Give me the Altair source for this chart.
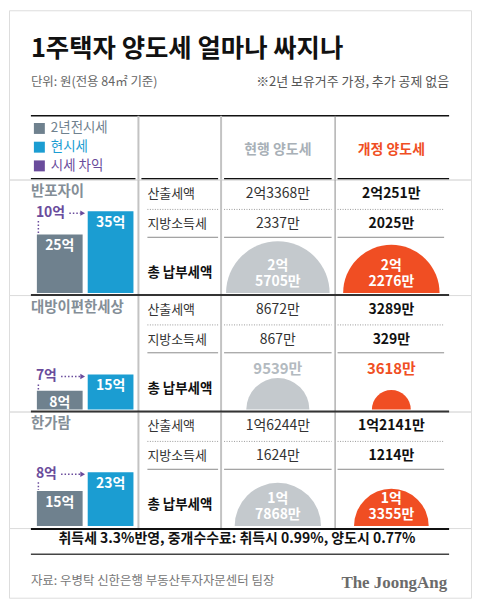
import math
import altair as alt
import pandas as pd

FONT = "Noto Sans CJK KR"

# ---------------- data ----------------
title = "1주택자 양도세 얼마나 싸지나"
subtitle = "단위: 원(전용 84㎡ 기준)"
note = "※2년 보유거주 가정, 추가 공제 없음"
legend_labels = ["2년전시세", "현시세", "시세 차익"]
columns = ["현행 양도세", "개정 양도세"]
row_labels = ["산출세액", "지방소득세", "총 납부세액"]
sections = ["반포자이", "대방이편한세상", "한가람"]
price_2y_ago = [25, 8, 15]      # 억
price_now = [35, 15, 23]        # 억
price_gain = [10, 7, 8]         # 억
calc_tax_current = ["2억3368만", "8672만", "1억6244만"]
local_tax_current = ["2337만", "867만", "1624만"]
calc_tax_revised = ["2억251만", "3289만", "1억2141만"]
local_tax_revised = ["2025만", "329만", "1214만"]
total_current = [25705, 9539, 17868]   # 만원
total_revised = [22276, 3618, 13355]   # 만원
footer_note = "취득세 3.3%반영, 중개수수료: 취득시 0.99%, 양도시 0.77%"
source = "자료: 우병탁 신한은행 부동산투자자문센터 팀장"
brand = "The JoongAng"

# ---------------- styles / layout ----------------
GRAY_BAR = "#6f818e"
CYAN = "#1b9dd2"
PURPLE = "#6a4c9c"
ORANGE = "#f04e23"
LIGHT = "#c4c9cd"
HEAD_GRAY = "#a8b0b7"
LABEL_GRAY = "#848e97"
W = 464
K = 2.35       # px per 억
R_MAX = 52     # px radius of the largest semicircle
ONE = pd.DataFrame({"k": [0]})


def hrule(x1, x2, y, color, width=1.0, dash=None):
    kw = dict(color=color, strokeWidth=width)
    if dash:
        kw["strokeDash"] = dash
    return alt.Chart(ONE).mark_rule(**kw).encode(
        x=alt.value(x1), x2=alt.value(x2), y=alt.value(y))


def vrule(x, y1, y2, color, width=1.0):
    return alt.Chart(ONE).mark_rule(color=color, strokeWidth=width).encode(
        x=alt.value(x), y=alt.value(y1), y2=alt.value(y2))


def label(text, x, y, size, color="#333", weight="normal", align="left", font=FONT):
    return alt.Chart(pd.DataFrame({"t": [text]})).mark_text(
        font=font, fontSize=size, fontWeight=weight, color=color,
        align=align, baseline="middle").encode(
        x=alt.value(x), y=alt.value(y), text="t:N")


def verticals(y1, y2):
    return [vrule(130, y1, y2, "#c3c3c3", 2),
            vrule(213, y1, y2, "#c3c3c3", 2),
            vrule(327.5, y1, y2, "#8a8a8a", 1)]


SEGS = [(139, 210), (216, 324), (330, 437)]

# ---------------- top block ----------------
TOP_H = 170
leg_df = pd.DataFrame({"item": legend_labels})
leg_y = alt.Scale(type="point", domain=legend_labels, range=[118.7, 156.3], padding=0)
leg_c = alt.Scale(domain=legend_labels, range=[GRAY_BAR, CYAN, PURPLE])
head_df = pd.DataFrame({"col": columns})
xp_top = alt.Scale(type="point", domain=columns, range=[270, 384], padding=0)

top_layers = [
    label(title, 22, 38.7, 25.5, "#111", "bold"),
    label(subtitle, 22, 72, 12.5, "#666"),
    label(note, 442, 72, 13, "#555", align="right"),
    hrule(22, 442, 106, "#111", 1.5),
    *verticals(106, TOP_H),
    alt.Chart(leg_df).mark_square(size=121, opacity=1).encode(
        x=alt.value(30.5),
        y=alt.Y("item:N", scale=leg_y, axis=None),
        color=alt.Color("item:N", scale=leg_c, legend=None)),
    alt.Chart(leg_df).mark_text(font=FONT, fontSize=13.5, align="left").encode(
        x=alt.value(42),
        y=alt.Y("item:N", scale=leg_y, axis=None),
        text="item:N",
        color=alt.Color("item:N", scale=leg_c, legend=None)),
    alt.Chart(head_df).mark_text(font=FONT, fontSize=14, fontWeight="bold").encode(
        x=alt.X("col:N", scale=xp_top, axis=None),
        y=alt.value(140),
        text="col:N",
        color=alt.Color("col:N", scale=alt.Scale(domain=columns, range=[HEAD_GRAY, ORANGE]),
                        legend=None)),
    hrule(22, 127, 169.2, "#111", 1.5),
    hrule(133, 210, 169.2, "#111", 1.5),
    hrule(216, 324, 169.2, "#111", 1.5),
    hrule(330, 442, 169.2, "#111", 1.5),
]
top = alt.layer(*top_layers).resolve_scale(color="independent").properties(width=W, height=TOP_H)


# ---------------- sections ----------------
def section(i, h, base, first=False):
    ys = alt.Scale(domain=[0, 40], range=[base, base - 40 * K])
    xb = alt.Scale(type="band", domain=legend_labels[:2], range=[28, 125],
                   paddingInner=0.1, paddingOuter=0)
    xp = alt.Scale(type="point", domain=columns, range=[270, 384], padding=0)
    rs = alt.Scale(type="sqrt", domain=[0, max(total_current)], range=[0, R_MAX])

    layers = [*verticals(0, h)]
    for a, b in SEGS:
        layers.append(hrule(a, b, 30, "#9a9a9a", 1, [1, 1.5]))
        layers.append(hrule(a, b, 58, "#8a8a8a", 1))

    layers += [
        label(sections[i], 22, 13, 14.5, LABEL_GRAY, "bold"),
        label(row_labels[0], 139, 15, 13, "#333"),
        label(row_labels[1], 139, 45, 13, "#333"),
        label(row_labels[2], 139, 94, 13.5, "#111", "bold"),
        label(calc_tax_current[i], 270, 15, 14, "#333", align="center"),
        label(local_tax_current[i], 270, 45, 14, "#333", align="center"),
        label(calc_tax_revised[i], 384, 15, 14, "#111", "bold", align="center"),
        label(local_tax_revised[i], 384, 45, 14, "#111", "bold", align="center"),
    ]

    # price bars
    bars_df = pd.DataFrame({
        "시점": legend_labels[:2],
        "억": [price_2y_ago[i], price_now[i]],
        "lbl": [f"{price_2y_ago[i]}억", f"{price_now[i]}억"],
    })
    layers.append(alt.Chart(bars_df).mark_bar().encode(
        x=alt.X("시점:N", scale=xb, axis=None),
        y=alt.Y("억:Q", scale=ys, axis=None),
        color=alt.Color("시점:N", scale=alt.Scale(domain=legend_labels[:2],
                                                 range=[GRAY_BAR, CYAN]), legend=None)))
    layers.append(alt.Chart(bars_df).mark_text(
        font=FONT, fontSize=14, fontWeight="bold", color="white", dy=12).encode(
        x=alt.X("시점:N", scale=xb, axis=None),
        y=alt.Y("억:Q", scale=ys, axis=None),
        text="lbl:N"))

    # gain annotation
    gdf = pd.DataFrame({"old": [price_2y_ago[i]], "new": [price_now[i]],
                        "gain": [f"{price_gain[i]}억"]})
    end = 27 + 8.3 * len(str(price_gain[i])) + 14 + 3
    layers += [
        alt.Chart(gdf).mark_text(font=FONT, fontSize=14, fontWeight="bold",
                                 color=PURPLE, align="left", dy=2).encode(
            x=alt.value(27), y=alt.Y("new:Q", scale=ys, axis=None), text="gain:N"),
        alt.Chart(gdf).mark_rule(color=PURPLE, strokeWidth=1.5, strokeDash=[1.5, 2],
                                 yOffset=2).encode(
            x=alt.value(end), x2=alt.value(72), y=alt.Y("new:Q", scale=ys, axis=None)),
        alt.Chart(gdf).mark_point(shape="triangle-right", filled=True, color=PURPLE,
                                  size=30, opacity=1, yOffset=2).encode(
            x=alt.value(74), y=alt.Y("new:Q", scale=ys, axis=None)),
        alt.Chart(gdf).mark_rule(color=PURPLE, strokeWidth=1.5, strokeDash=[1.5, 2],
                                 yOffset=10, y2Offset=-1).encode(
            x=alt.value(29.5), y=alt.Y("new:Q", scale=ys, axis=None), y2="old:Q"),
    ]

    # total tax semicircles (area ~ amount)
    tdf = pd.DataFrame({"구분": columns, "v": [total_current[i], total_revised[i]]})
    tdf["txt"] = tdf["v"].map(
        lambda v: f"{v // 10000}억\n{v % 10000}만" if v >= 10000 else f"{v}만")
    layers.append(alt.Chart(tdf).mark_arc(theta=4.712389, theta2=7.853982).encode(
        x=alt.X("구분:N", scale=xp, axis=None),
        y=alt.datum(0),
        radius=alt.Radius("v:Q", scale=rs, stack=None),
        color=alt.Color("구분:N", scale=alt.Scale(domain=columns, range=[LIGHT, ORANGE]),
                        legend=None)))
    big = tdf[tdf["v"] >= 10000]
    small = tdf[tdf["v"] < 10000]
    if len(big):
        layers.append(alt.Chart(big).mark_text(
            font=FONT, fontSize=14, fontWeight="bold", color="white", dy=-27,
            lineBreak="\n", lineHeight=16, baseline="middle").encode(
            x=alt.X("구분:N", scale=xp, axis=None), y=alt.datum(0), text="txt:N"))
    if len(small):
        rmax = R_MAX * math.sqrt(small["v"].max() / max(total_current))
        layers.append(alt.Chart(small).mark_text(
            font=FONT, fontSize=15, fontWeight="bold", dy=-(rmax + 9)).encode(
            x=alt.X("구분:N", scale=xp, axis=None), y=alt.datum(0), text="txt:N",
            color=alt.Color("구분:N", scale=alt.Scale(domain=columns,
                                                     range=["#b3bac0", ORANGE]),
                            legend=None)))
    if not first:
        layers.append(hrule(22, 442, 0, "#333", 2))
    return alt.layer(*layers).resolve_scale(x="independent", color="independent").properties(
        width=W, height=h)


s1 = section(0, 116, 114, first=True)
s2 = section(1, 117, 115)
s3 = section(2, 117, 115)

# ---------------- footer ----------------
FOOT_H = 70
foot = alt.layer(
    hrule(22, 442, 1, "#111", 2),
    label(footer_note, 229, 11, 14, "#111", "bold", align="center"),
    hrule(22, 442, 26.3, "#444", 1.5),
    label(source, 22, 53.7, 12.5, "#777"),
    label(brand, 440, 55, 17, "#6b6b6b", "bold", align="right", font="Liberation Serif"),
).properties(width=W, height=FOOT_H)

chart = alt.vconcat(top, s1, s2, s3, foot, spacing=0, bounds="flush", padding=0).resolve_scale(
    x="independent", y="independent", color="independent"
).configure_view(stroke=None).configure(background="white")

chart.save("out.html", embed_options={"renderer": "svg", "actions": False})
